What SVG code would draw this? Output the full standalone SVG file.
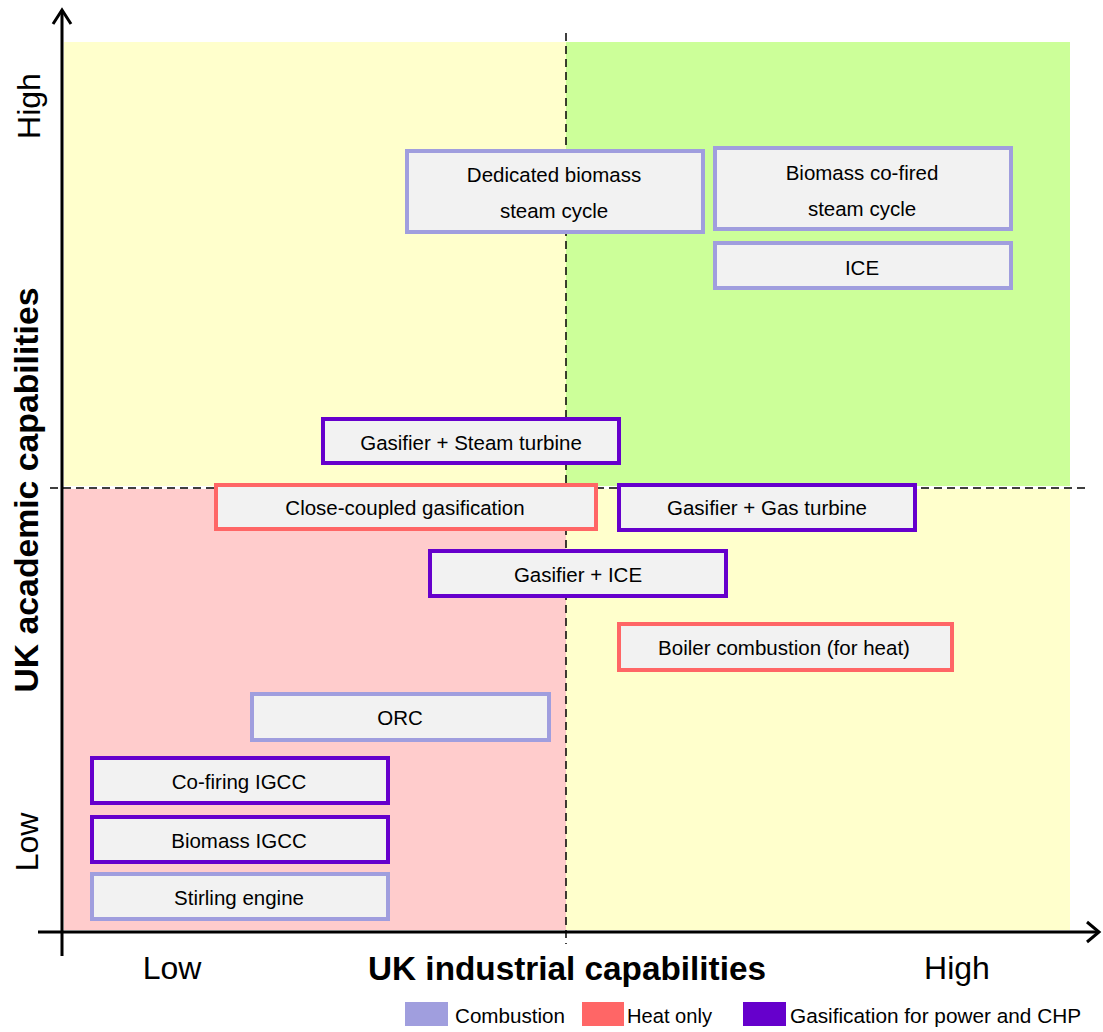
<svg xmlns="http://www.w3.org/2000/svg" width="1103" height="1032" viewBox="0 0 1103 1032">
  <style>
    .lbl { font-family: "Liberation Sans", Arial, sans-serif; font-size: 20.5px; fill: #000; text-anchor: middle; }
    .axis-txt { font-family: "Liberation Sans", Arial, sans-serif; font-size: 32px; fill: #000; text-anchor: middle; }
    .axis-title { font-family: "Liberation Sans", Arial, sans-serif; font-size: 33px; font-weight: bold; fill: #000; text-anchor: middle; }
    .leg { font-family: "Liberation Sans", Arial, sans-serif; font-size: 20.5px; fill: #000; }
    .box { fill: #F2F2F2; stroke-width: 4; }
    .comb { stroke: #A09EDE; }
    .heat { stroke: #FF6666; }
    .gas { stroke: #6600CC; }
    .axis { stroke: #000; stroke-width: 3; fill: none; }
    .dash { stroke: #000; stroke-width: 1.5; stroke-dasharray: 8 5; fill: none; }
  </style>

  <rect width="1103" height="1032" fill="#FFFFFF"/>

  <!-- Quadrant backgrounds -->
  <g id="quadrants">
    <rect x="64" y="42" width="502" height="444" fill="#FFFFCC"/>
    <rect x="566" y="42" width="504" height="444" fill="#CCFF99"/>
    <rect x="64" y="489" width="502" height="441" fill="#FFCCCC"/>
    <rect x="566" y="489" width="504" height="441" fill="#FFFFCC"/>
  </g>

  <!-- Quadrant dividers and axes -->
  <g id="connectors">
    <line class="dash" x1="566" y1="33" x2="566" y2="944"/>
    <line class="dash" x1="50" y1="488" x2="1085" y2="488"/>
    <line class="axis" x1="62" y1="956" x2="62" y2="10"/>
    <polyline class="axis" points="53,24 62,10 71,24"/>
    <line class="axis" x1="38" y1="932" x2="1098" y2="932"/>
    <polyline class="axis" points="1087,922 1099,932 1087,942"/>
  </g>

  <!-- Axis labels -->
  <g id="axis-labels">
    <text class="axis-txt" transform="translate(40,106) rotate(-90)">High</text>
    <text class="axis-txt" transform="translate(38,842) rotate(-90)">Low</text>
    <text class="axis-title" transform="translate(38,490) rotate(-90)" textLength="405" lengthAdjust="spacingAndGlyphs">UK academic capabilities</text>
    <text class="axis-txt" x="172" y="979">Low</text>
    <text class="axis-txt" x="957" y="979">High</text>
    <text class="axis-title" x="567" y="980" textLength="398" lengthAdjust="spacingAndGlyphs">UK industrial capabilities</text>
  </g>

  <!-- Technology nodes -->
  <g id="dedicated-biomass">
    <rect class="box comb" x="407" y="151" width="296" height="81"/>
    <text class="lbl" x="554" y="182">Dedicated biomass</text>
    <text class="lbl" x="554" y="218">steam cycle</text>
  </g>
  <g id="biomass-cofired">
    <rect class="box comb" x="715" y="148" width="296" height="81"/>
    <text class="lbl" x="862" y="180">Biomass co-fired</text>
    <text class="lbl" x="862" y="216">steam cycle</text>
  </g>
  <g id="ice">
    <rect class="box comb" x="715" y="243" width="296" height="45"/>
    <text class="lbl" x="862" y="275">ICE</text>
  </g>
  <g id="gasifier-steam">
    <rect class="box gas" x="323" y="419" width="296" height="44"/>
    <text class="lbl" x="471" y="450">Gasifier + Steam turbine</text>
  </g>
  <g id="close-coupled">
    <rect class="box heat" x="216" y="485" width="380" height="44"/>
    <text class="lbl" x="405" y="515">Close-coupled gasification</text>
  </g>
  <g id="gasifier-gas-turbine">
    <rect class="box gas" x="619" y="485" width="296" height="45"/>
    <text class="lbl" x="767" y="515">Gasifier + Gas turbine</text>
  </g>
  <g id="gasifier-ice">
    <rect class="box gas" x="430" y="551" width="296" height="45"/>
    <text class="lbl" x="578" y="582">Gasifier + ICE</text>
  </g>
  <g id="boiler">
    <rect class="box heat" x="619" y="624" width="333" height="46"/>
    <text class="lbl" x="784" y="655">Boiler combustion (for heat)</text>
  </g>
  <g id="orc">
    <rect class="box comb" x="252" y="694" width="297" height="46"/>
    <text class="lbl" x="400" y="725">ORC</text>
  </g>
  <g id="cofiring-igcc">
    <rect class="box gas" x="92" y="758" width="296" height="45"/>
    <text class="lbl" x="239" y="789">Co-firing IGCC</text>
  </g>
  <g id="biomass-igcc">
    <rect class="box gas" x="92" y="817" width="296" height="45"/>
    <text class="lbl" x="239" y="848">Biomass IGCC</text>
  </g>
  <g id="stirling">
    <rect class="box comb" x="92" y="874" width="296" height="45"/>
    <text class="lbl" x="239" y="905">Stirling engine</text>
  </g>

  <!-- Legend -->
  <g id="legend">
    <rect x="405" y="1002" width="43" height="24" fill="#A09EDE"/>
    <text class="leg" x="455" y="1023" textLength="110" lengthAdjust="spacingAndGlyphs">Combustion</text>
    <rect x="582" y="1002" width="42" height="24" fill="#FF6666"/>
    <text class="leg" x="627" y="1023" textLength="85" lengthAdjust="spacingAndGlyphs">Heat only</text>
    <rect x="743" y="1002" width="43" height="24" fill="#6600CC"/>
    <text class="leg" x="790" y="1023" textLength="291" lengthAdjust="spacingAndGlyphs">Gasification for power and CHP</text>
  </g>
</svg>
